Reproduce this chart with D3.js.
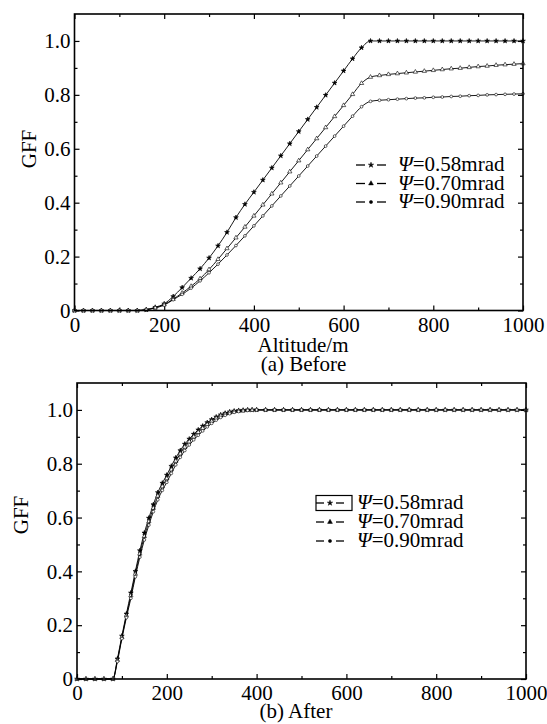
<!DOCTYPE html>
<html>
<head>
<meta charset="utf-8">
<title>GFF vs Altitude</title>
<script src="https://cdn.jsdelivr.net/npm/d3@7"></script>
<style>
body { margin: 0; background: #fff; }
svg { display: block; }
text { font-family: "Liberation Serif", "Times New Roman", serif; fill: #000; }
</style>
</head>
<body>
<svg id="chart" width="547" height="724"></svg>
<script>
// ---- data ----
var psiLabels = ["0.58", "0.70", "0.90"];

// (a) Before: altitude every 20 m
var altBefore = [0,20,40,60,80,100,120,140,160,180,200,220,240,260,280,300,320,340,360,380,
  400,420,440,460,480,500,520,540,560,580,600,620,640,660,680,700,720,740,760,780,
  800,820,840,860,880,900,920,940,960,980,1000];
var before058 = [0,0,0,0,0,0,0,0,0.003,0.012,0.025,0.052,0.085,0.12,0.155,0.195,0.24,0.29,0.345,0.394,
  0.439,0.484,0.529,0.574,0.619,0.664,0.709,0.754,0.799,0.844,0.889,0.934,0.975,1.0,1.0,1.0,1.0,1.0,1.0,1.0,
  1.0,1.0,1.0,1.0,1.0,1.0,1.0,1.0,1.0,1.0,1.0];
var before070 = [0,0,0,0,0,0,0,0,0.003,0.01,0.022,0.042,0.065,0.09,0.118,0.152,0.19,0.23,0.27,0.31,
  0.351,0.392,0.433,0.474,0.515,0.556,0.597,0.638,0.679,0.72,0.761,0.802,0.843,0.866,0.872,0.876,0.879,0.882,0.885,0.888,
  0.891,0.894,0.897,0.899,0.902,0.905,0.907,0.91,0.912,0.914,0.916];
var before090 = [0,0,0,0,0,0,0,0,0.003,0.01,0.02,0.04,0.06,0.083,0.11,0.14,0.172,0.206,0.241,0.277,
  0.314,0.351,0.388,0.425,0.462,0.499,0.536,0.573,0.61,0.647,0.684,0.721,0.756,0.776,0.78,0.782,0.784,0.786,0.788,0.789,
  0.791,0.792,0.794,0.795,0.797,0.798,0.8,0.801,0.802,0.803,0.804];

// (b) After: finer grid on the steep part
var altAfter = [0,20,40,60,80,90,100,110,120,130,140,150,160,170,180,190,200,210,220,230,
  240,250,260,270,280,290,300,310,320,330,340,350,360,370,380,390,400,420,440,460,
  480,500,520,540,560,580,600,620,640,660,680,700,720,740,760,780,800,820,840,860,
  880,900,920,940,960,980,1000];
var after058 = [0,0,0,0,0,0.075,0.16,0.242,0.32,0.4,0.477,0.543,0.598,0.648,0.693,0.728,0.758,0.791,0.822,0.849,
  0.873,0.892,0.91,0.926,0.94,0.953,0.964,0.974,0.982,0.988,0.993,0.996,0.998,0.999,1.0,1.0,1.0,1.0,1.0,1.0,
  1.0,1.0,1.0,1.0,1.0,1.0,1.0,1.0,1.0,1.0,1.0,1.0,1.0,1.0,1.0,1.0,1.0,1.0,1.0,1.0,
  1.0,1.0,1.0,1.0,1.0,1.0,1.0];
var after070 = [0,0,0,0,0,0.07,0.155,0.235,0.31,0.39,0.465,0.53,0.585,0.635,0.68,0.715,0.745,0.778,0.81,0.837,
  0.862,0.882,0.9,0.917,0.932,0.946,0.958,0.969,0.978,0.985,0.99,0.994,0.996,0.998,0.999,1.0,1.0,1.0,1.0,1.0,
  1.0,1.0,1.0,1.0,1.0,1.0,1.0,1.0,1.0,1.0,1.0,1.0,1.0,1.0,1.0,1.0,1.0,1.0,1.0,1.0,
  1.0,1.0,1.0,1.0,1.0,1.0,1.0];
var after090 = [0,0,0,0,0,0.065,0.15,0.228,0.3,0.38,0.453,0.517,0.572,0.622,0.666,0.701,0.731,0.764,0.796,0.824,
  0.849,0.87,0.889,0.906,0.922,0.937,0.95,0.962,0.972,0.98,0.986,0.991,0.994,0.996,0.998,0.999,1.0,1.0,1.0,1.0,
  1.0,1.0,1.0,1.0,1.0,1.0,1.0,1.0,1.0,1.0,1.0,1.0,1.0,1.0,1.0,1.0,1.0,1.0,1.0,1.0,
  1.0,1.0,1.0,1.0,1.0,1.0,1.0];

var xTicks = [0,200,400,600,800,1000];
var xMinor = [100,300,500,700,900];
var yTicks = [0,0.2,0.4,0.6,0.8,1.0];
var yMinor = [0.1,0.3,0.5,0.7,0.9];

var FONT = "'Liberation Serif', 'Times New Roman', serif";
var svg = d3.select("#chart");
var symbols = [d3.symbolStar, d3.symbolTriangle, d3.symbolCircle];
var symSize = [7, 8, 6];
var symFill = ["#000", "#fff", "#fff"];

function yFmt(d) { return d === 0 ? "0" : d3.format(".1f")(d); }

function styleAxis(g) {
  g.attr("font-size", null).attr("font-family", null);
  g.select(".domain").remove();
  g.selectAll(".tick line").attr("stroke", "#000").attr("stroke-width", 1.2);
  g.selectAll(".tick text").style("font-size", "21px").style("font-family", FONT);
}

function label(g, txt, x, y, size) {
  return g.append("text").attr("x", x).attr("y", y).attr("text-anchor", "middle")
    .style("font-size", size + "px").style("font-family", FONT).text(txt);
}

function drawPanel(p) {
  var x = d3.scaleLinear().domain([0, 1000]).range([p.left, p.right]);
  var y = d3.scaleLinear().domain([0, 1.1]).range([p.bottom, p.top]);
  var g = svg.append("g");

  // inward ticks on all four sides
  g.append("g").attr("transform", "translate(0," + p.bottom + ")")
    .call(d3.axisBottom(x).tickValues(xTicks).tickSizeInner(-5).tickSizeOuter(0).tickPadding(6.5).tickFormat(d3.format("d")))
    .call(styleAxis);
  g.append("g").attr("transform", "translate(0," + p.bottom + ")")
    .call(d3.axisBottom(x).tickValues(xMinor).tickSizeInner(-3).tickSizeOuter(0).tickFormat(""))
    .call(styleAxis);
  g.append("g").attr("transform", "translate(0," + p.top + ")")
    .call(d3.axisTop(x).tickValues(xTicks.concat(xMinor)).tickSizeInner(0).tickSizeOuter(0).tickFormat(""))
    .call(styleAxis)
    .selectAll(".tick line").attr("y2", function(d) { return xTicks.indexOf(d) >= 0 ? 5 : 3; });
  g.append("g").attr("transform", "translate(" + p.left + ",0)")
    .call(d3.axisLeft(y).tickValues(yTicks).tickSizeInner(-5).tickSizeOuter(0).tickPadding(4).tickFormat(yFmt))
    .call(styleAxis);
  g.append("g").attr("transform", "translate(" + p.left + ",0)")
    .call(d3.axisLeft(y).tickValues(yMinor).tickSizeInner(-3).tickSizeOuter(0).tickFormat(""))
    .call(styleAxis);
  g.append("g").attr("transform", "translate(" + p.right + ",0)")
    .call(d3.axisRight(y).tickValues(yTicks.concat(yMinor)).tickSizeInner(0).tickSizeOuter(0).tickFormat(""))
    .call(styleAxis)
    .selectAll(".tick line").attr("x2", function(d) { return yTicks.indexOf(d) >= 0 ? -5 : -3; });

  // series: thin line plus small markers at every sample
  var line = d3.line().x(function(d) { return x(d[0]); }).y(function(d) { return y(d[1]); })
    .curve(d3.curveMonotoneX);
  p.series.forEach(function(vals, k) {
    var pts = p.alt.map(function(a, i) { return [a, vals[i]]; });
    g.append("path").datum(pts).attr("d", line)
      .attr("fill", "none").attr("stroke", "#000").attr("stroke-width", 0.9);
    g.append("g").selectAll("path").data(pts).enter().append("path")
      .attr("transform", function(d) { return "translate(" + x(d[0]) + "," + y(d[1]) + ")"; })
      .attr("d", d3.symbol().type(symbols[k]).size(symSize[k]))
      .attr("fill", symFill[k]).attr("stroke", "#000").attr("stroke-width", 0.6);
  });

  // frame
  g.append("rect").attr("x", p.left).attr("y", p.top)
    .attr("width", p.right - p.left).attr("height", p.bottom - p.top)
    .attr("fill", "none").attr("stroke", "#000").attr("stroke-width", 1.6);

  // axis titles
  g.append("text").attr("transform", "translate(" + p.yLabelX + "," + p.yLabelY + ") rotate(-90)")
    .attr("text-anchor", "middle").style("font-size", "21px").style("font-family", FONT).text("GFF");
  if (p.xTitle) label(g, p.xTitle, p.xTitleX, p.xTitleY, 21);
  label(g, p.caption, p.captionX, p.captionY, 21);

  // legend
  var lg = g.append("g");
  psiLabels.forEach(function(lab, k) {
    var cy = p.legY + k * p.legStep;
    if (k === 0 && p.legBox) {
      lg.append("rect").attr("x", p.legX).attr("y", cy - 7.5).attr("width", p.boxW).attr("height", 15)
        .attr("fill", "none").attr("stroke", "#000").attr("stroke-width", 1.2);
    }
    var dash = (p.legW - 12) / 2;
    lg.append("line").attr("x1", p.legX).attr("x2", p.legX + dash).attr("y1", cy).attr("y2", cy)
      .attr("stroke", "#000").attr("stroke-width", 1.3);
    lg.append("line").attr("x1", p.legX + p.legW - dash).attr("x2", p.legX + p.legW).attr("y1", cy).attr("y2", cy)
      .attr("stroke", "#000").attr("stroke-width", 1.3);
    lg.append("path").attr("transform", "translate(" + (p.legX + p.legW / 2) + "," + cy + ")")
      .attr("d", d3.symbol().type(symbols[k]).size(symSize[k] + 2)).attr("fill", "#000")
      .attr("stroke", "#000").attr("stroke-width", 0.5);
    var t = lg.append("text").attr("x", p.legTextX).attr("y", cy + 6)
      .style("font-size", "21px").style("font-family", FONT);
    t.append("tspan").style("font-style", "italic").text("\u03A8");
    t.append("tspan").text("=" + lab + "mrad");
  });
}

drawPanel({
  left: 74.5, right: 523, top: 14, bottom: 310.5,
  alt: altBefore, series: [before058, before070, before090],
  yLabelX: 36, yLabelY: 149,
  xTitle: "Altitude/m", xTitleX: 303, xTitleY: 352,
  caption: "(a) Before", captionX: 303.5, captionY: 371,
  legX: 356, legW: 30, legTextX: 398, legY: 165, legStep: 18.5, legBox: false
});

drawPanel({
  left: 77, right: 526, top: 383, bottom: 679,
  alt: altAfter, series: [after058, after070, after090],
  yLabelX: 28, yLabelY: 515,
  xTitle: null,
  caption: "(b) After", captionX: 296, captionY: 718,
  legX: 316, legW: 28, boxW: 36, legTextX: 357, legY: 503, legStep: 19, legBox: true
});
</script>
</body>
</html>
